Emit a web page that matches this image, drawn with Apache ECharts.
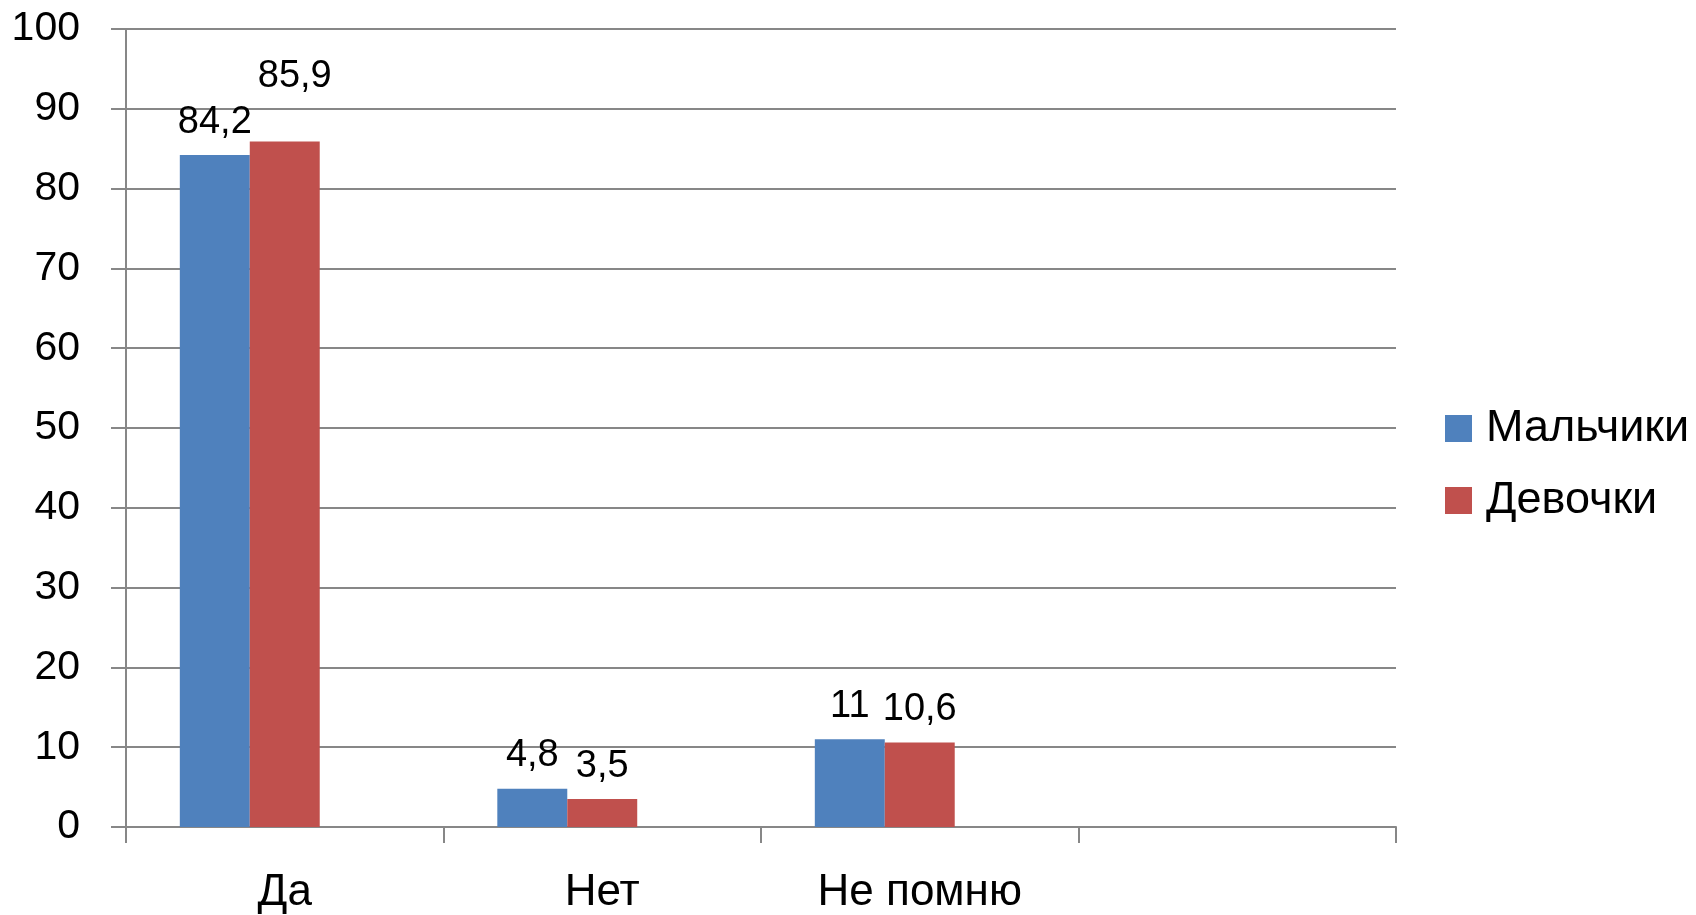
<!DOCTYPE html>
<html>
<head>
<meta charset="utf-8">
<script src="https://cdn.jsdelivr.net/npm/echarts@6/dist/echarts.min.js"></script>
<style>
html,body{margin:0;padding:0;background:#fff;overflow:hidden;}
#chart{width:1696px;height:915px;}
</style>
</head>
<body>
<div id="chart"></div>
<script>
var categories = ['Да', 'Нет', 'Не помню', ''];
var boys = [84.2, 4.8, 11, null];
var girls = [85.9, 3.5, 10.6, null];
var seriesNames = ['Мальчики', 'Девочки'];
var yTicks = [0, 10, 20, 30, 40, 50, 60, 70, 80, 90, 100];

var FONT = 'Liberation Sans';
function fmt(p) { return String(p.value).replace('.', ','); }

var labelBase = {
  show: true, position: 'top', distance: 14,
  fontFamily: FONT, fontSize: 38, color: '#000', formatter: fmt
};

var girlsData = girls.map(function (v, i) {
  if (i === 0) return { value: v, label: { offset: [10, -32] } };
  return v;
});

var chart = echarts.init(document.getElementById('chart'));
chart.setOption({
  animation: false,
  backgroundColor: '#fff',
  grid: { left: 126, top: 29, width: 1270, height: 801, containLabel: false },
  legend: {
    data: seriesNames,
    orient: 'vertical',
    left: 1440, top: 401,
    itemWidth: 27, itemHeight: 27, itemGap: 27,
    icon: 'rect',
    textStyle: { fontFamily: FONT, fontSize: 45, color: '#000', padding: [0, 0, 0, 9] }
  },
  xAxis: {
    type: 'category',
    data: categories,
    boundaryGap: true,
    axisLine: { show: true, lineStyle: { color: '#878787', width: 2 } },
    axisTick: { show: true, length: 16, alignWithLabel: false, lineStyle: { color: '#878787', width: 2 } },
    axisLabel: { fontFamily: FONT, fontSize: 44, color: '#000', margin: 44, interval: 0 },
    splitLine: { show: false }
  },
  yAxis: {
    type: 'value',
    min: yTicks[0], max: yTicks[yTicks.length - 1], interval: 10,
    axisLine: { show: true, lineStyle: { color: '#878787', width: 2 } },
    axisTick: { show: true, length: 15, lineStyle: { color: '#878787', width: 2 } },
    axisLabel: { fontFamily: FONT, fontSize: 41, color: '#000', margin: 46 },
    splitLine: { show: true, lineStyle: { color: '#878787', width: 2 } }
  },
  series: [
    { name: seriesNames[0], type: 'bar', data: boys, barGap: '0%', barCategoryGap: '33.9%',
      itemStyle: { color: '#4F81BD' }, label: labelBase },
    { name: seriesNames[1], type: 'bar', data: girlsData, barGap: '0%', barCategoryGap: '33.9%',
      itemStyle: { color: '#C0504D' }, label: labelBase },
    { name: 'empty', type: 'bar', data: [null, null, null, null], barGap: '0%', barCategoryGap: '33.9%',
      itemStyle: { color: '#9BBB59' } }
  ]
});
</script>
</body>
</html>
